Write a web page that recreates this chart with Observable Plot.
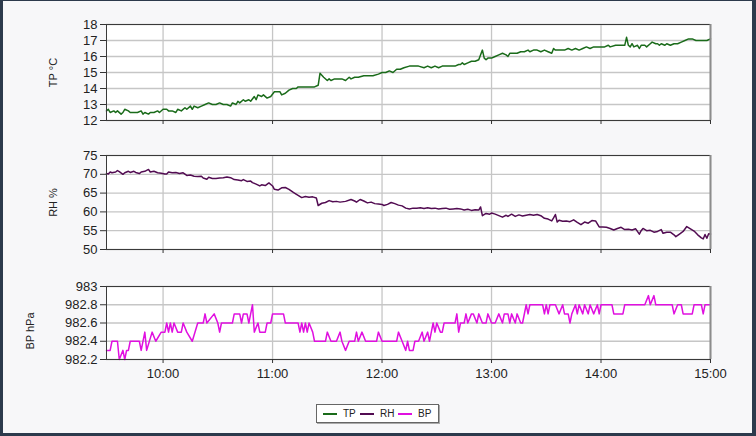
<!DOCTYPE html>
<html><head><meta charset="utf-8">
<script src="https://cdn.jsdelivr.net/npm/d3@7"></script>
<script src="https://cdn.jsdelivr.net/npm/@observablehq/plot@0.6"></script>
<style>
html,body{margin:0;padding:0;background:#fff;}
#wrap{position:relative;width:756px;height:436px;background:#f7f7f9;font-family:"Liberation Sans",Arial,sans-serif;overflow:hidden}
#edge{position:absolute;left:0;top:0;width:756px;height:436px;box-sizing:border-box;border-left:3px solid #2c3a4c;border-right:4px solid #2c3a4c;border-bottom:3px solid #2c3a4c;border-top:1px solid #2c3a4c;pointer-events:none}
.panel{position:absolute;left:0;}
#legend{position:absolute;left:316px;top:404px;width:121px;height:17px;border:1px solid #666;background:#fff;box-shadow:1px 1px 0 #aaa;font-size:10px;color:#222;}
#legend .sw{position:absolute;top:8px;width:14px;height:2px}
#legend .tx{position:absolute;top:2px;line-height:13px}
</style></head>
<body>
<div id="wrap"></div>
<script>
const xStart = "09:29";
const xEnd = "15:00";
const hourLabels = ["10:00", "11:00", "12:00", "13:00", "14:00", "15:00"];

const tpTicks = [12, 13, 14, 15, 16, 17, 18];
const rhTicks = [50, 55, 60, 65, 70, 75];
const bpTicks = [982.2, 982.4, 982.6, 982.8, 983];

const seriesNames = ["TP", "RH", "BP"];
const seriesTitles = ["TP °C", "RH %", "BP hPa"];
const seriesColors = ["#1a6b1a", "#520c52", "#e010e0"];

const tpSeries = [
["09:29",12.6],["09:30",12.7],["09:31",12.5],["09:33",12.6],["09:34",12.5],["09:35",12.6],["09:37",12.4],["09:38",12.5],
["09:39",12.7],["09:41",12.6],["09:42",12.5],["09:44",12.5],["09:46",12.5],["09:48",12.6],["09:49",12.4],["09:50",12.5],
["09:52",12.4],["09:53",12.5],["09:55",12.5],["09:57",12.6],["09:58",12.5],["10:00",12.7],["10:02",12.7],["10:03",12.6],
["10:05",12.6],["10:07",12.5],["10:08",12.7],["10:10",12.6],["10:12",12.8],["10:13",12.7],["10:15",12.9],["10:16",12.7],
["10:17",12.9],["10:19",12.8],["10:21",12.9],["10:23",13.0],["10:25",13.1],["10:27",13.0],["10:29",13.0],["10:31",13.1],
["10:33",13.0],["10:35",13.0],["10:37",12.9],["10:38",13.1],["10:40",13.0],["10:41",13.2],["10:42",13.1],["10:44",13.3],
["10:45",13.2],["10:47",13.3],["10:48",13.2],["10:50",13.5],["10:51",13.3],["10:52",13.6],["10:54",13.5],["10:55",13.6],
["10:57",13.4],["10:59",13.5],["11:01",13.8],["11:03",13.8],["11:04",13.8],["11:05",13.6],["11:07",13.7],["11:09",13.9],
["11:11",14.0],["11:13",14.0],["11:14",14.1],["11:16",14.1],["11:20",14.1],["11:23",14.1],["11:25",14.2],["11:26",14.95],
["11:28",14.7],["11:30",14.5],["11:31",14.6],["11:32",14.5],["11:34",14.6],["11:36",14.6],["11:38",14.6],["11:40",14.5],
["11:42",14.7],["11:43",14.6],["11:45",14.7],["11:47",14.7],["11:50",14.8],["11:53",14.8],["11:55",14.8],["11:58",14.9],
["12:00",15.0],["12:02",15.0],["12:04",15.1],["12:06",15.0],["12:08",15.2],["12:10",15.2],["12:12",15.3],["12:15",15.4],
["12:18",15.4],["12:20",15.4],["12:23",15.3],["12:25",15.4],["12:27",15.3],["12:29",15.4],["12:31",15.3],["12:33",15.4],
["12:36",15.4],["12:40",15.4],["12:42",15.5],["12:43",15.5],["12:44",15.6],["12:45",15.5],["12:47",15.6],["12:49",15.7],
["12:51",15.7],["12:53",15.8],["12:55",16.4],["12:56",15.9],["12:57",15.8],["12:58",15.9],["13:00",15.9],["13:02",16.0],
["13:04",16.1],["13:06",16.2],["13:08",16.1],["13:09",16.0],["13:10",16.2],["13:12",16.2],["13:14",16.2],["13:16",16.3],
["13:18",16.3],["13:20",16.4],["13:21",16.3],["13:23",16.4],["13:25",16.4],["13:27",16.3],["13:29",16.4],["13:31",16.3],
["13:33",16.2],["13:34",16.5],["13:35",16.4],["13:37",16.4],["13:40",16.4],["13:42",16.5],["13:44",16.4],["13:46",16.5],
["13:48",16.4],["13:50",16.5],["13:52",16.6],["13:54",16.5],["13:56",16.6],["13:58",16.6],["14:00",16.6],["14:02",16.6],
["14:04",16.7],["14:05",16.6],["14:08",16.7],["14:11",16.7],["14:13",16.7],["14:14",17.2],["14:15",16.7],["14:16",16.6],
["14:17",16.8],["14:18",16.6],["14:20",16.7],["14:21",16.5],["14:22",16.7],["14:24",16.7],["14:25",16.6],["14:27",16.8],
["14:28",16.9],["14:30",16.8],["14:31",16.8],["14:32",16.7],["14:33",16.8],["14:35",16.7],["14:36",16.8],["14:38",16.7],
["14:40",16.8],["14:42",16.8],["14:44",16.9],["14:46",17.0],["14:48",17.1],["14:50",17.1],["14:52",17.0],["14:55",17.0],
["14:58",17.0],["15:00",17.1]
];

const rhSeries = [
["09:29",70.2],["09:30",70.1],["09:31",70.6],["09:32",70.4],["09:34",70.6],["09:35",71.0],["09:36",70.7],["09:38",70.0],
["09:39",70.4],["09:41",70.8],["09:42",70.5],["09:44",70.8],["09:45",70.5],["09:47",70.2],["09:48",70.6],["09:50",70.8],
["09:52",71.3],["09:53",70.6],["09:55",70.8],["09:57",70.4],["09:59",70.3],["10:01",70.1],["10:02",70.1],["10:03",70.6],
["10:05",70.4],["10:07",70.5],["10:09",70.2],["10:11",70.4],["10:13",69.7],["10:15",69.8],["10:17",69.5],["10:19",69.4],
["10:21",69.5],["10:22",69.0],["10:24",68.7],["10:25",69.2],["10:27",68.9],["10:29",68.9],["10:31",69.0],["10:33",69.1],
["10:35",69.3],["10:37",69.1],["10:39",68.6],["10:41",68.5],["10:43",68.3],["10:44",68.6],["10:46",68.1],["10:48",68.2],
["10:49",67.8],["10:51",67.4],["10:53",66.9],["10:54",67.2],["10:56",67.0],["10:58",67.7],["11:00",66.9],["11:01",66.0],
["11:03",65.8],["11:05",66.4],["11:07",66.5],["11:09",66.0],["11:11",65.3],["11:12",65.0],["11:14",64.4],["11:16",63.8],
["11:18",64.1],["11:20",63.9],["11:22",64.0],["11:24",63.7],["11:25",61.7],["11:27",62.3],["11:29",62.5],["11:31",63.0],
["11:33",62.7],["11:35",62.8],["11:37",62.6],["11:40",62.8],["11:43",63.3],["11:45",62.9],["11:46",62.6],["11:48",63.3],
["11:50",62.9],["11:52",62.4],["11:54",62.6],["11:56",62.2],["11:58",62.1],["12:00",62.0],["12:01",61.7],["12:03",62.0],
["12:05",62.5],["12:07",62.2],["12:09",61.8],["12:11",61.6],["12:13",61.0],["12:15",60.8],["12:17",61.0],["12:19",61.0],
["12:21",61.1],["12:23",60.9],["12:25",61.1],["12:27",60.9],["12:29",61.0],["12:31",60.8],["12:33",60.9],["12:35",61.0],
["12:37",60.7],["12:39",60.8],["12:41",60.9],["12:43",60.8],["12:45",60.5],["12:47",60.7],["12:49",60.4],["12:51",60.6],
["12:53",60.5],["12:54",61.3],["12:55",59.0],["12:57",59.6],["12:59",59.4],["13:00",59.7],["13:02",59.4],["13:04",59.0],
["13:06",58.6],["13:08",59.1],["13:09",58.8],["13:11",59.4],["13:13",58.8],["13:15",59.2],["13:17",58.9],["13:19",59.1],
["13:21",59.3],["13:23",59.1],["13:25",59.3],["13:27",59.0],["13:29",58.3],["13:31",58.1],["13:33",57.6],["13:34",58.4],
["13:35",59.3],["13:36",57.3],["13:37",57.8],["13:39",57.5],["13:41",57.6],["13:43",57.4],["13:45",57.9],["13:47",57.2],
["13:49",56.6],["13:51",57.3],["13:53",57.0],["13:55",57.7],["13:57",57.6],["13:59",56.0],["14:01",56.0],["14:03",55.9],
["14:05",55.6],["14:07",55.2],["14:09",55.6],["14:11",55.9],["14:13",55.3],["14:15",55.4],["14:17",55.2],["14:19",55.5],
["14:21",54.1],["14:22",55.0],["14:23",55.6],["14:25",55.0],["14:27",55.1],["14:29",54.6],["14:31",54.8],["14:33",55.3],
["14:34",54.3],["14:36",54.6],["14:38",54.6],["14:40",53.9],["14:41",53.4],["14:43",54.1],["14:45",54.8],["14:47",56.1],
["14:49",55.5],["14:51",54.9],["14:53",53.9],["14:55",53.1],["14:56",52.8],["14:57",54.0],["14:58",53.0],["14:59",54.2],
["15:00",54.1]
];

const bpSeries = [
["09:29",982.3],["09:31",982.3],["09:32",982.4],["09:35",982.4],["09:36",982.2],["09:38",982.3],["09:39",982.2],["09:40",982.3],
["09:41",982.3],["09:42",982.4],["09:47",982.4],["09:48",982.3],["09:50",982.5],["09:51",982.3],["09:54",982.5],["09:56",982.4],
["09:59",982.5],["10:01",982.5],["10:02",982.6],["10:03",982.5],["10:04",982.6],["10:05",982.5],["10:06",982.6],["10:08",982.5],
["10:10",982.5],["10:11",982.6],["10:13",982.5],["10:16",982.4],["10:19",982.6],["10:22",982.6],["10:23",982.7],["10:24",982.6],
["10:28",982.7],["10:30",982.6],["10:31",982.5],["10:32",982.6],["10:38",982.6],["10:39",982.7],["10:42",982.7],["10:43",982.6],
["10:44",982.7],["10:46",982.7],["10:47",982.6],["10:48",982.7],["10:49",982.8],["10:50",982.5],["10:52",982.6],["10:53",982.5],
["10:56",982.5],["10:57",982.6],["10:59",982.6],["11:00",982.7],["11:06",982.7],["11:07",982.6],["11:14",982.6],["11:15",982.5],
["11:16",982.6],["11:17",982.5],["11:18",982.6],["11:19",982.5],["11:20",982.6],["11:22",982.5],["11:23",982.4],["11:29",982.4],
["11:30",982.5],["11:32",982.4],["11:35",982.4],["11:37",982.5],["11:38",982.4],["11:40",982.3],["11:42",982.4],["11:45",982.4],
["11:46",982.5],["11:47",982.4],["11:49",982.5],["11:51",982.4],["11:57",982.4],["11:58",982.5],["12:00",982.4],["12:08",982.4],
["12:09",982.5],["12:11",982.4],["12:13",982.3],["12:14",982.4],["12:15",982.3],["12:17",982.3],["12:18",982.4],["12:20",982.4],
["12:22",982.5],["12:23",982.4],["12:25",982.5],["12:26",982.4],["12:27",982.5],["12:28",982.6],["12:29",982.5],["12:30",982.6],
["12:32",982.5],["12:33",982.5],["12:34",982.6],["12:40",982.6],["12:41",982.7],["12:42",982.5],["12:43",982.6],["12:45",982.6],
["12:46",982.7],["12:47",982.6],["12:49",982.7],["12:50",982.7],["12:52",982.6],["12:53",982.7],["12:55",982.6],["12:57",982.6],
["12:58",982.7],["13:00",982.6],["13:02",982.6],["13:04",982.7],["13:06",982.6],["13:07",982.7],["13:09",982.7],["13:10",982.6],
["13:11",982.7],["13:13",982.6],["13:14",982.7],["13:16",982.6],["13:17",982.6],["13:19",982.8],["13:20",982.7],["13:21",982.8],
["13:28",982.8],["13:29",982.7],["13:30",982.8],["13:31",982.7],["13:32",982.8],["13:35",982.8],["13:37",982.7],["13:39",982.8],
["13:40",982.7],["13:42",982.7],["13:43",982.6],["13:44",982.7],["13:46",982.8],["13:47",982.7],["13:48",982.8],["13:50",982.7],
["13:51",982.8],["13:53",982.7],["13:54",982.8],["13:56",982.7],["13:58",982.8],["13:59",982.7],["14:00",982.8],["14:06",982.8],
["14:07",982.7],["14:12",982.7],["14:13",982.8],["14:24",982.8],["14:26",982.9],["14:27",982.8],["14:29",982.9],["14:30",982.8],
["14:39",982.8],["14:40",982.7],["14:42",982.8],["14:44",982.8],["14:45",982.7],["14:50",982.7],["14:51",982.8],["14:55",982.8],
["14:56",982.7],["14:57",982.8],["15:00",982.8]
];

const toDate = s => { const [h, m] = s.split(":").map(Number); return new Date(Date.UTC(2024, 0, 1, h, m)); };
const xDomain = [toDate(xStart), toDate(xEnd)];
const hourTicks = hourLabels.map(toDate);
const toRows = arr => arr.map(([t, v]) => ({t: toDate(t), v}));

const wrap = document.getElementById("wrap");

function panel({rows, yDomain, ticks, fmt, color, title, titleOffset, titleDy, top, height, mt, mb, showX}) {
  const chart = Plot.plot({
    width: 756, height,
    marginLeft: 106, marginRight: 46, marginTop: mt, marginBottom: mb,
    style: {background: "transparent", fontFamily: "'Liberation Sans', Arial, sans-serif", fontSize: "13px", color: "#222", overflow: "visible"},
    x: {type: "utc", domain: xDomain},
    y: {domain: yDomain},
    marks: [
      Plot.frame({fill: "white", stroke: null}),
      Plot.gridX(hourTicks, {stroke: "#c6c6c6", strokeOpacity: 1, strokeWidth: 1.3}),
      Plot.gridY(ticks, {stroke: "#c6c6c6", strokeOpacity: 1, strokeWidth: 1.3}),
      Plot.line(rows, {x: "t", y: "v", stroke: color, strokeWidth: 1.5}),
      Plot.frame({stroke: "#3a3a3a", strokeWidth: 1}),
      Plot.ruleX([xDomain[1]], {stroke: "#8c8c8c", strokeWidth: 2}),
      Plot.axisY(ticks, {tickSize: 6, tickPadding: 3, tickFormat: fmt, label: null, stroke: "#333", fill: "#222"}),
      Plot.axisX(hourTicks, {tickSize: 4, tickPadding: 5, label: null, stroke: "#333", fill: "#222",
        tickFormat: showX ? d3.utcFormat("%H:%M") : () => ""}),
      Plot.text([title], {frameAnchor: "left", dx: -titleOffset, dy: titleDy, rotate: -90, textAnchor: "middle", lineAnchor: "middle", fontSize: 11, fill: "#222"})
    ]
  });
  chart.classList.add("panel");
  chart.style.top = top + "px";
  wrap.appendChild(chart);
}

panel({rows: toRows(tpSeries), yDomain: [12, 18], ticks: tpTicks, fmt: d => String(d), color: seriesColors[0],
  title: seriesTitles[0], titleOffset: 53, titleDy: 0, top: 0, height: 130, mt: 24, mb: 10, showX: false});
panel({rows: toRows(rhSeries), yDomain: [50, 75], ticks: rhTicks, fmt: d => String(d), color: seriesColors[1],
  title: seriesTitles[1], titleOffset: 53, titleDy: 0, top: 130, height: 130, mt: 25, mb: 11, showX: false});
panel({rows: toRows(bpSeries), yDomain: [982.2, 983], ticks: bpTicks, fmt: d => String(+d.toFixed(1)), color: seriesColors[2],
  title: seriesTitles[2], titleOffset: 76, titleDy: 8, top: 260, height: 125, mt: 26, mb: 26, showX: true});

const legend = document.createElement("div");
legend.id = "legend";
const swX = [6, 43, 81];
seriesNames.forEach((n, i) => {
  const sw = document.createElement("span");
  sw.className = "sw";
  sw.style.left = swX[i] + "px";
  sw.style.background = seriesColors[i];
  const tx = document.createElement("span");
  tx.className = "tx";
  tx.style.left = (swX[i] + 20) + "px";
  tx.textContent = n;
  legend.appendChild(sw); legend.appendChild(tx);
});
wrap.appendChild(legend);

const edge = document.createElement("div");
edge.id = "edge";
wrap.appendChild(edge);
</script>
</body></html>
